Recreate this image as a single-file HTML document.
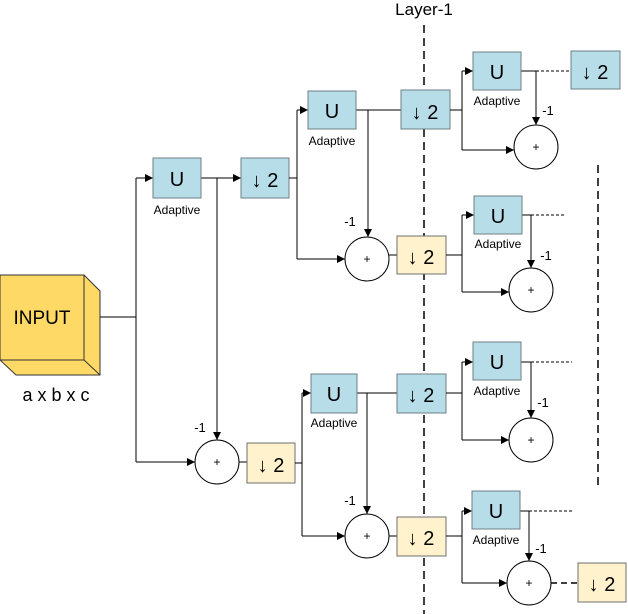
<!DOCTYPE html>
<html><head><meta charset="utf-8"><style>
body{margin:0;background:#fff}
svg{display:block;font-family:"Liberation Sans",sans-serif}
.b{fill:#b7dde8;stroke:#6f7f86;stroke-width:1}
.y{fill:#fff2cc;stroke:#6f6f6f;stroke-width:1}
.l{stroke:#000;stroke-width:1;fill:none}
.c{fill:#fff;stroke:#000;stroke-width:1}
.t{font-size:20px;text-anchor:middle}
.a{font-size:12px;text-anchor:middle}
.p{font-size:12px;text-anchor:middle}
.m{font-size:13px;text-anchor:middle}
</style></head><body>
<svg width="628" height="614" viewBox="0 0 628 614">
<defs><marker id="ar" viewBox="0 0 10 10" refX="10" refY="5" markerWidth="8" markerHeight="8" orient="auto" markerUnits="userSpaceOnUse"><path d="M0,0L10,5L0,10z"/></marker></defs>
<text x="424" y="15" style="font-size:17px;text-anchor:middle">Layer-1</text>
<line x1="424" y1="25" x2="424" y2="614" stroke="#000" stroke-width="1.5" stroke-dasharray="8,5"/>
<line x1="598" y1="165" x2="598" y2="490" stroke="#000" stroke-width="1.5" stroke-dasharray="8,5"/>

<polygon points="0,275 84,275 100,291 100,375 16,375 0,360" fill="#ffd966" stroke="#333"/>
<line x1="84" y1="275" x2="84" y2="360" stroke="#333"/>
<line x1="0" y1="360" x2="84" y2="360" stroke="#333"/>
<line x1="84" y1="360" x2="100" y2="375" stroke="#333"/>
<text x="42" y="324" style="font-size:19px;text-anchor:middle">INPUT</text>
<text x="56" y="401" style="font-size:18px;text-anchor:middle">a x b x c</text>

<path class="l" d="M100,317H136M136,178V462"/>
<path class="l" d="M136,178H153" marker-end="url(#ar)"/>
<path class="l" d="M136,462H195" marker-end="url(#ar)"/>
<path class="l" d="M201,178H241" marker-end="url(#ar)"/>
<path class="l" d="M217,178V440" marker-end="url(#ar)"/>
<rect class="b" x="153" y="158" width="48" height="40"/><text class="t" x="177" y="186">U</text>
<text class="a" x="177" y="214">Adaptive</text>
<rect class="b" x="241" y="158" width="48" height="40"/><text class="t" x="265" y="187">↓ 2</text>
<circle class="c" cx="217" cy="462" r="22"/><text class="p" x="217" y="466">+</text>
<text class="m" x="200" y="432">-1</text>
<path class="l" d="M239,462H247"/>
<rect class="y" x="247" y="443" width="48" height="40"/><text class="t" x="271" y="472">↓ 2</text>

<path class="l" d="M289,178H297M297,110V259"/>
<path class="l" d="M297,110H308" marker-end="url(#ar)"/>
<path class="l" d="M297,259H345" marker-end="url(#ar)"/>
<path class="l" d="M356,110H401"/>
<path class="l" d="M368,110V237" marker-end="url(#ar)"/>
<rect class="b" x="308" y="91" width="48" height="38"/><text class="t" x="332" y="118">U</text>
<text class="a" x="332" y="145">Adaptive</text>
<rect class="b" x="401" y="90" width="49" height="39"/><text class="t" x="425" y="119">↓ 2</text>
<circle class="c" cx="367" cy="259" r="22"/><text class="p" x="367" y="263">+</text>
<text class="m" x="350" y="226">-1</text>
<path class="l" d="M389,255H397"/>
<rect class="y" x="397" y="236" width="49" height="38"/><text class="t" x="421" y="264">↓ 2</text>

<path class="l" d="M295,463H302M302,393V536"/>
<path class="l" d="M302,393H311" marker-end="url(#ar)"/>
<path class="l" d="M302,536H345" marker-end="url(#ar)"/>
<path class="l" d="M356,393H397"/>
<path class="l" d="M367,393V514" marker-end="url(#ar)"/>
<rect class="b" x="311" y="374" width="46" height="39"/><text class="t" x="334" y="401">U</text>
<text class="a" x="334" y="427">Adaptive</text>
<rect class="b" x="397" y="374" width="49" height="39"/><text class="t" x="421" y="402">↓ 2</text>
<circle class="c" cx="367" cy="536" r="22"/><text class="p" x="367" y="540">+</text>
<text class="m" x="350" y="505">-1</text>
<path class="l" d="M389,536H397"/>
<rect class="y" x="397" y="517" width="49" height="39"/><text class="t" x="421" y="545">↓ 2</text>

<path class="l" d="M450,110H462M462,71V150"/>
<path class="l" d="M462,71H473" marker-end="url(#ar)"/>
<path class="l" d="M462,150H514" marker-end="url(#ar)"/>
<path class="l" d="M521,71H536"/>
<path class="l" d="M536,71H571" stroke-dasharray="3,2"/>
<path class="l" d="M536,71V125" marker-end="url(#ar)"/>
<rect class="b" x="473" y="52" width="48" height="38"/><text class="t" x="497" y="79">U</text>
<text class="a" x="497" y="105">Adaptive</text>
<rect class="b" x="571" y="51" width="49" height="38"/><text class="t" x="595" y="79">↓ 2</text>
<circle class="c" cx="536" cy="147" r="22"/><text class="p" x="536" y="151">+</text>
<text class="m" x="548" y="115">-1</text>

<path class="l" d="M446,255H462M462,215V292"/>
<path class="l" d="M462,215H474" marker-end="url(#ar)"/>
<path class="l" d="M462,292H509" marker-end="url(#ar)"/>
<path class="l" d="M522,215H531"/>
<path class="l" d="M531,215H565" stroke-dasharray="3,2"/>
<path class="l" d="M531,215V268" marker-end="url(#ar)"/>
<rect class="b" x="474" y="196" width="48" height="38"/><text class="t" x="498" y="223">U</text>
<text class="a" x="498" y="248">Adaptive</text>
<circle class="c" cx="531" cy="290" r="22"/><text class="p" x="531" y="294">+</text>
<text class="m" x="546" y="260">-1</text>

<path class="l" d="M446,393H462M462,362V440"/>
<path class="l" d="M462,362H473" marker-end="url(#ar)"/>
<path class="l" d="M462,440H509" marker-end="url(#ar)"/>
<path class="l" d="M521,362H531"/>
<path class="l" d="M531,362H572" stroke-dasharray="3,2"/>
<path class="l" d="M531,362V418" marker-end="url(#ar)"/>
<rect class="b" x="473" y="342" width="48" height="38"/><text class="t" x="497" y="369">U</text>
<text class="a" x="497" y="395">Adaptive</text>
<circle class="c" cx="531" cy="440" r="22"/><text class="p" x="531" y="444">+</text>
<text class="m" x="543" y="407">-1</text>

<path class="l" d="M446,536H462M462,511V583"/>
<path class="l" d="M462,511H472" marker-end="url(#ar)"/>
<path class="l" d="M462,583H507" marker-end="url(#ar)"/>
<path class="l" d="M520,511H529"/>
<path class="l" d="M529,511H572" stroke-dasharray="3,2"/>
<path class="l" d="M529,511V561" marker-end="url(#ar)"/>
<rect class="b" x="472" y="491" width="48" height="38"/><text class="t" x="496" y="518">U</text>
<text class="a" x="496" y="544">Adaptive</text>
<circle class="c" cx="529" cy="583" r="22"/><text class="p" x="529" y="587">+</text>
<text class="m" x="541" y="553">-1</text>
<path d="M551,583H578" stroke="#000" stroke-width="1.5" stroke-dasharray="6,4"/>
<rect class="y" x="578" y="563" width="48" height="39"/><text class="t" x="602" y="591">↓ 2</text>
</svg>
</body></html>
